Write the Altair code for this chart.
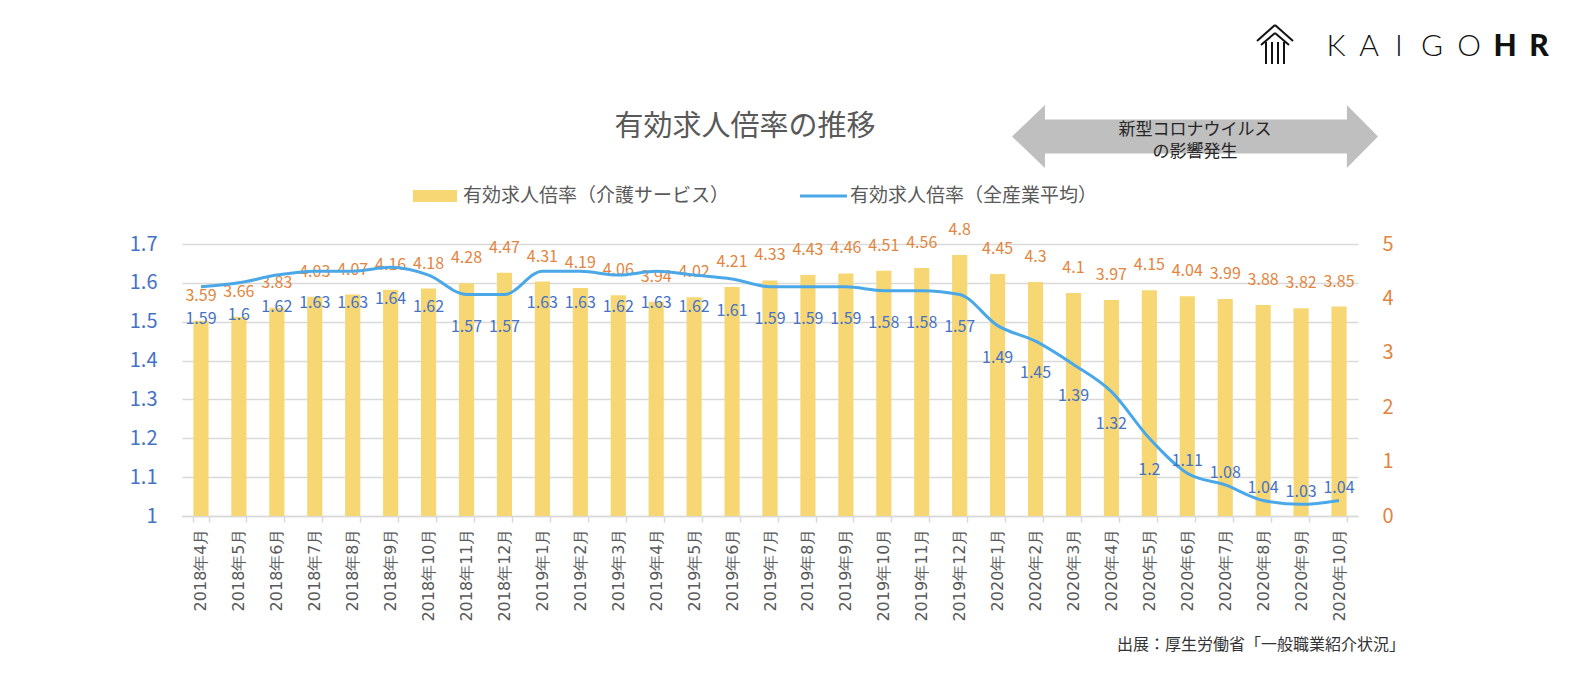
import altair as alt
import pandas as pd

months = [
    "2018年4月", "2018年5月", "2018年6月", "2018年7月", "2018年8月", "2018年9月",
    "2018年10月", "2018年11月", "2018年12月",
    "2019年1月", "2019年2月", "2019年3月", "2019年4月", "2019年5月", "2019年6月",
    "2019年7月", "2019年8月", "2019年9月", "2019年10月", "2019年11月", "2019年12月",
    "2020年1月", "2020年2月", "2020年3月", "2020年4月", "2020年5月", "2020年6月",
    "2020年7月", "2020年8月", "2020年9月", "2020年10月",
]
care = [3.59, 3.66, 3.83, 4.03, 4.07, 4.16, 4.18, 4.28, 4.47, 4.31, 4.19, 4.06, 3.94,
        4.02, 4.21, 4.33, 4.43, 4.46, 4.51, 4.56, 4.8, 4.45, 4.3, 4.1, 3.97, 4.15,
        4.04, 3.99, 3.88, 3.82, 3.85]
allind = [1.59, 1.6, 1.62, 1.63, 1.63, 1.64, 1.62, 1.57, 1.57, 1.63, 1.63, 1.62, 1.63,
          1.62, 1.61, 1.59, 1.59, 1.59, 1.58, 1.58, 1.57, 1.49, 1.45, 1.39, 1.32, 1.2,
          1.11, 1.08, 1.04, 1.03, 1.04]
left_ticks = [1.0, 1.1, 1.2, 1.3, 1.4, 1.5, 1.6, 1.7]
right_ticks = [0, 1, 2, 3, 4, 5]

title_text = "有効求人倍率の推移"
legend_bar = "有効求人倍率（介護サービス）"
legend_line = "有効求人倍率（全産業平均）"
arrow_line1 = "新型コロナウイルス"
arrow_line2 = "の影響発生"
source_text = "出展：厚生労働省「一般職業紹介状況」"

df = pd.DataFrame({
    "month": months,
    "care": care,
    "ind": allind,
    "care_lbl": [str(v) for v in care],
    "ind_lbl": [str(v) for v in allind],
})
one = pd.DataFrame({"a": [0]})

FONT = "Noto Sans CJK JP"
BAR = "#F7D774"
LINE = "#4AA8E8"
BLUE_TXT = "#4472C4"
ORANGE = "#E2853E"
GRID = "#D9D9D9"
GRAY_TXT = "#595959"

W, H = 1176, 272

xenc = alt.X(
    "month:N", sort=months, title=None,
    scale=alt.Scale(paddingInner=0.6, paddingOuter=0.3),
    axis=alt.Axis(labelAngle=-90, labelFontSize=16, labelColor=GRAY_TXT, labelFont="DejaVu Sans",
                  domainColor=GRID, domainWidth=1.5, tickColor=GRID, tickWidth=1.5,
                  tickSize=6, tickBand="extent", labelPadding=6, labelOverlap=False),
)

base = alt.Chart(df)

yr = alt.Y("care:Q", scale=alt.Scale(domain=[0, 5], nice=False, zero=True),
           axis=alt.Axis(orient="right", values=right_ticks, grid=False, domain=False,
                         ticks=False, labelColor=ORANGE, labelFontSize=20, labelFont=FONT,
                         labelPadding=24, title=None, labelOverlap=False))
bars = base.mark_bar(color=BAR).encode(x=xenc, y=yr)
bar_txt = base.mark_text(color=ORANGE, fontSize=16, font=FONT, dy=-25, baseline="middle").encode(
    x=xenc, y=yr, text="care_lbl:N")
bar_layer = alt.layer(bars, bar_txt)

yl = alt.Y("ind:Q", scale=alt.Scale(domain=[1, 1.7], nice=False, zero=False),
           axis=alt.Axis(orient="left", values=left_ticks, format=".1~f", grid=True,
                         gridColor=GRID, gridWidth=1.5, domain=False, ticks=False,
                         labelColor=BLUE_TXT, labelFontSize=20, labelFont=FONT,
                         labelPadding=25, title=None, labelOverlap=False,
                         labelBound=False, labelFlush=False, tickCount=8))
line = base.mark_line(color=LINE, strokeWidth=3, interpolate="monotone").encode(x=xenc, y=yl)
ind_txt_below = base.transform_filter(alt.datum.ind >= 1.15).mark_text(
    color=BLUE_TXT, fontSize=16, font=FONT, dy=32, baseline="middle").encode(
    x=xenc, y=yl, text="ind_lbl:N")
ind_txt_above = base.transform_filter(alt.datum.ind < 1.15).mark_text(
    color=BLUE_TXT, fontSize=16, font=FONT, dy=-12, baseline="middle").encode(
    x=xenc, y=yl, text="ind_lbl:N")
line_layer = alt.layer(line, ind_txt_below, ind_txt_above)

ann = alt.Chart(one)
OX, OY = 182, 244  # plot origin on page


def px(v):
    return alt.value(v - OX)


def py(v):
    return alt.value(v - OY)


annotations = []
annotations.append(ann.mark_text(text=title_text, fontSize=29, font=FONT, color=GRAY_TXT,
                                 align="center", baseline="middle").encode(x=px(745), y=py(127)))
annotations.append(ann.mark_rect(color=BAR).encode(x=px(413), x2=px(457), y=py(190), y2=py(202)))
annotations.append(ann.mark_text(text=legend_bar, fontSize=19, font=FONT, color=GRAY_TXT,
                                 align="left", baseline="middle").encode(x=px(463), y=py(196)))
annotations.append(ann.mark_rule(color=LINE, strokeWidth=3).encode(x=px(800), x2=px(847), y=py(196)))
annotations.append(ann.mark_text(text=legend_line, fontSize=19, font=FONT, color=GRAY_TXT,
                                 align="left", baseline="middle").encode(x=px(850), y=py(196)))

arrow_path = ("M -1 0 L -0.82 -0.172 L -0.82 -0.093 L 0.83 -0.093 L 0.83 -0.172 L 1 0 "
              "L 0.83 0.172 L 0.83 0.093 L -0.82 0.093 L -0.82 0.172 Z")
annotations.append(ann.mark_point(shape=arrow_path, filled=True, color="#BFBFBF", opacity=1,
                                  size=366 * 366, strokeWidth=0).encode(x=px(1195), y=py(136.5)))
annotations.append(ann.mark_text(text=arrow_line1, fontSize=17, font=FONT, color="#262626",
                                 align="center", baseline="middle").encode(x=px(1195), y=py(130)))
annotations.append(ann.mark_text(text=arrow_line2, fontSize=17, font=FONT, color="#262626",
                                 align="center", baseline="middle").encode(x=px(1195), y=py(152)))

# logo icon
for (x1, y1, x2, y2) in [(1257, 41, 1275, 25), (1275, 25, 1293, 41),
                         (1261, 45, 1275, 33), (1275, 33, 1289, 45)]:
    annotations.append(ann.mark_rule(color="#111111", strokeWidth=2).encode(
        x=px(x1), y=py(y1), x2=px(x2), y2=py(y2)))
for xx in [1266, 1272, 1278, 1284]:
    annotations.append(ann.mark_rule(color="#111111", strokeWidth=2).encode(
        x=px(xx), y=py(42), y2=py(64)))
for ch, cx, w in [("K", 1336, 300), ("A", 1369, 300), ("I", 1399, 300), ("G", 1432, 300),
                  ("O", 1469, 300), ("H", 1505, 900), ("R", 1539, 900)]:
    annotations.append(ann.mark_text(text=ch, fontSize=30, font="Lato", fontWeight=w,
                                     color="#111111", align="center", baseline="middle").encode(
        x=px(cx), y=py(47)))

annotations.append(ann.mark_text(text=source_text, fontSize=16, font=FONT, color="#333333",
                                 align="right", baseline="middle").encode(x=px(1405), y=py(645)))

chart = alt.layer(bar_layer, line_layer, *annotations).resolve_scale(y="independent").properties(
    width=W, height=H,
    autosize=alt.AutoSizeParams(type="none"),
    padding={"left": OX - 8, "top": OY - 8, "right": 1574 - (OX - 8) - W, "bottom": 680 - (OY - 8) - H},
    background="white",
).configure_view(stroke=None)

chart.save("out.html", embed_options={"renderer": "svg", "actions": False})
